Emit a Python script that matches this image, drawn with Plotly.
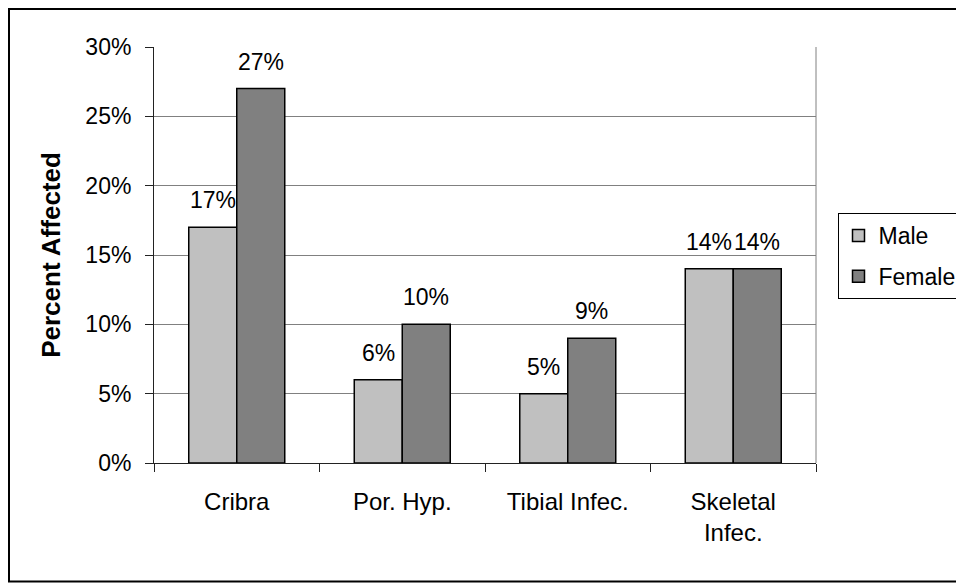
import plotly.graph_objects as go

categories = ["Cribra", "Por. Hyp.", "Tibial Infec.", "Skeletal<br>Infec."]
male = [0.17, 0.06, 0.05, 0.14]
female = [0.27, 0.10, 0.09, 0.14]
series_names = ["Male", "Female"]
y_ticks = [0, 0.05, 0.10, 0.15, 0.20, 0.25, 0.30]

# page has an 8px body margin; figure is sized so it fills the window
OFF = 8
W, H = 964 - OFF, 583 - OFF
# plot area in screenshot coords: x 154..816, y 47..463
L, T = 154 - OFF, 47 - OFF
R = W - (816 - OFF)
B = H - (463 - OFF)
pw, ph = W - L - R, H - T - B

def px(x):
    return (x - OFF - L) / pw

def py(y):
    return (H - B - (y - OFF)) / ph

FONT = "Liberation Sans, Arial, sans-serif"

fig = go.Figure()
colors = ["#C0C0C0", "#808080"]
for name, vals, col in zip(series_names, [male, female], colors):
    fig.add_trace(go.Bar(
        name=name, x=categories, y=vals, legendgroup=name,
        marker=dict(color=col, line=dict(color="black", width=1.5)),
    ))

annotations = []
for vals, shift in [(male, -24), (female, 24)]:
    for c, v in zip(categories, vals):
        annotations.append(dict(
            x=c, y=v, xref="x", yref="y", text=f"{round(v*100)}%",
            showarrow=False, xshift=shift, yshift=12, yanchor="bottom",
            font=dict(family=FONT, size=23, color="black"),
        ))

fig.update_layout(
    width=W, height=H,
    margin=dict(l=L, r=R, t=T, b=B, autoexpand=False),
    paper_bgcolor="white", plot_bgcolor="white",
    barmode="group", bargap=0.42, bargroupgap=0,
    font=dict(family=FONT, size=23, color="black"),
    showlegend=True,
    legend=dict(
        x=px(837.5), y=py(213), xanchor="left", yanchor="top",
        bordercolor="black", borderwidth=1, bgcolor="white",
        font=dict(family=FONT, size=23, color="black"),
        traceorder="grouped", tracegroupgap=8,
    ),
    annotations=annotations,
    shapes=[
        dict(type="rect", xref="paper", yref="paper",
             x0=px(9), x1=px(975), y0=py(581.5), y1=py(9),
             line=dict(color="black", width=2), fillcolor="rgba(0,0,0,0)", layer="below"),
        dict(type="line", xref="paper", yref="paper", x0=1, x1=1, y0=0, y1=1,
             line=dict(color="#808080", width=1)),
    ],
)

fig.update_xaxes(
    type="category", showline=True, linecolor="#222", linewidth=1,
    ticks="outside", tickson="boundaries", ticklen=8, tickcolor="#222",
    showgrid=False, tickfont=dict(family=FONT, size=24, color="black"),
    ticklabelstandoff=17,
)
fig.update_yaxes(
    range=[0, 0.30], tickvals=y_ticks, tickformat=".0%",
    showline=True, linecolor="#222", linewidth=1,
    ticks="outside", ticklen=8, tickcolor="#222",
    showgrid=True, gridcolor="#808080", gridwidth=1, zeroline=False,
    tickfont=dict(family=FONT, size=23, color="black"),
    ticklabelstandoff=9,
    title=dict(text="<b>Percent Affected</b>", font=dict(family=FONT, size=26, color="black"), standoff=17),
)

fig.write_html("out.html")
